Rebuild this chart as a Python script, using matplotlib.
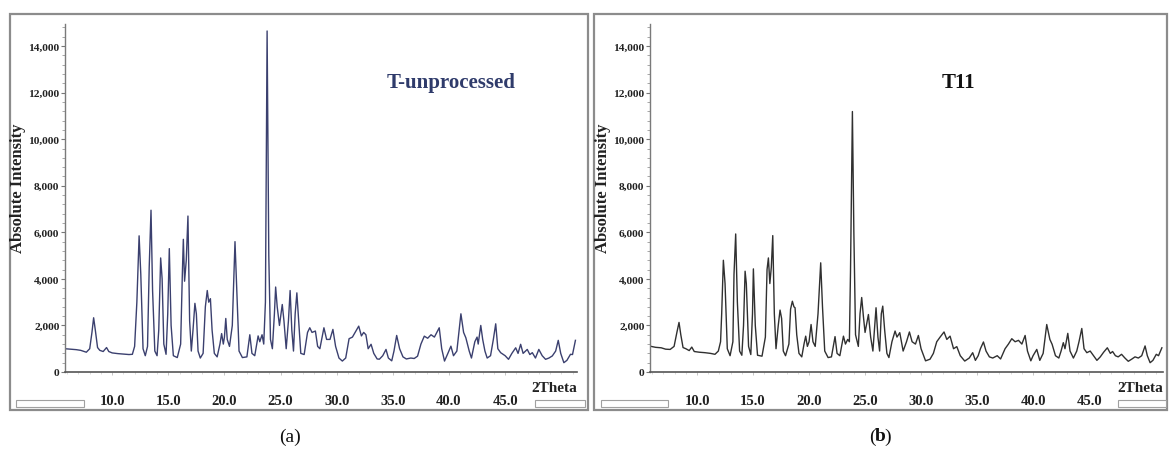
import matplotlib
matplotlib.use("Agg")
import matplotlib.pyplot as plt
from matplotlib.patches import Rectangle
from matplotlib.ticker import MultipleLocator, FuncFormatter

# ---------------- data ----------------
theta_a = [5.8, 6.3, 6.8, 7.2, 7.7, 8.0, 8.2, 8.35, 8.5, 8.7, 8.9, 9.2, 9.5, 9.7, 10.0, 10.5, 11.0, 11.5, 11.8,
           12.0, 12.2, 12.4, 12.55, 12.75, 12.95, 13.15, 13.3, 13.46, 13.6, 13.8, 14.0, 14.15, 14.32, 14.45, 14.6,
           14.8, 14.95, 15.09, 15.25, 15.45, 15.8, 16.1, 16.25, 16.34, 16.45, 16.6, 16.75, 16.9, 17.05, 17.2, 17.37,
           17.5, 17.65, 17.85, 18.1, 18.3, 18.47, 18.6, 18.75, 18.9, 19.1, 19.35, 19.6, 19.75, 19.9, 20.0, 20.12,
           20.25, 20.45, 20.7, 20.94, 21.1, 21.3, 21.6, 22.0, 22.26, 22.45, 22.7, 23.0, 23.15, 23.35, 23.5, 23.65,
           23.8, 23.95, 24.1, 24.27, 24.45, 24.56, 24.7, 24.9, 25.15, 25.3, 25.5, 25.7, 25.85, 26.0, 26.15, 26.3,
           26.45, 26.6, 26.8, 27.1, 27.4, 27.6, 27.8, 28.1, 28.3, 28.5, 28.86, 29.1, 29.4, 29.66, 29.9, 30.2, 30.5,
           30.8, 31.1, 31.4, 31.7, 31.96, 32.2, 32.4, 32.6, 32.8, 33.06, 33.3, 33.6, 33.8, 34.1, 34.39, 34.6, 34.9,
           35.1, 35.34, 35.6, 35.9, 36.2, 36.6, 36.9, 37.2, 37.5, 37.8, 38.1, 38.4, 38.7, 39.13, 39.35, 39.6, 39.9,
           40.17, 40.4, 40.7, 41.06, 41.3, 41.5, 41.8, 42.0, 42.3, 42.5, 42.6, 42.83, 43.0, 43.2, 43.4, 43.7, 43.95,
           44.16, 44.35, 44.6, 45.0, 45.3, 45.6, 45.94, 46.15, 46.38, 46.6, 46.97, 47.2, 47.42, 47.7, 48.0, 48.3,
           48.6, 48.9, 49.2, 49.5, 49.73, 49.95, 50.23, 50.5, 50.82, 51.0, 51.26]
intensity_a = [1000, 980, 960, 930, 850, 1000, 1700, 2330, 1800, 1050, 930, 880, 1050, 880, 820, 790, 770, 750, 760,
               1100, 3000, 5850, 4200, 1000, 700, 1100, 4500, 6950, 3500, 900, 700, 1800, 4900, 4000, 1200,
               760, 2500, 5300, 2000, 700, 620, 1200, 4200, 5700, 3900, 4800, 6700, 2200, 900, 1800, 2950,
               2500, 900, 600, 800, 2800, 3500, 3000, 3150, 1800, 800, 650, 1200, 1650, 1200, 1500, 2300,
               1400, 1100, 2000, 5600, 3500, 900, 620, 650, 1600, 800, 700, 1550, 1300, 1600, 1200, 3000,
               14650, 5000, 1400, 1000, 2500, 3650, 2800, 2000, 2900, 2200, 1000, 2200, 3500, 1800, 900, 2500,
               3400, 2300, 800, 750, 1700, 1900, 1700, 1760, 1100, 1000, 1900, 1400, 1400, 1830, 1100, 600, 470,
               600, 1430, 1500, 1750, 1970, 1550, 1700, 1600, 1000, 1190, 800, 560, 550, 700, 970, 600, 480,
               900, 1570, 1000, 650, 560, 600, 580, 680, 1200, 1540, 1450, 1600, 1500, 1900, 1000, 470, 800,
               1110, 700, 900, 2500, 1700, 1470, 900, 600, 1300, 1500, 1200, 2000, 1400, 900, 600, 700, 1400,
               2070, 1000, 830, 700, 545, 800, 1040, 800, 1190, 800, 970, 750, 830, 600, 970, 700,
               545, 600, 690, 900, 1360, 800, 400, 500, 760, 750, 1360]

theta_b = [5.8, 6.3, 6.8, 7.2, 7.6, 7.95, 8.2, 8.39, 8.55, 8.75, 9.0, 9.3, 9.53, 9.75, 10.2, 10.7, 11.2, 11.6, 11.9,
           12.1, 12.2, 12.35, 12.5, 12.7, 12.95, 13.2, 13.3, 13.45, 13.6, 13.8, 14.0, 14.15, 14.29, 14.4, 14.6,
           14.8, 14.95, 15.03, 15.2, 15.4, 15.8, 16.1, 16.25, 16.37, 16.5, 16.63, 16.76, 16.9, 17.05, 17.25, 17.41,
           17.55, 17.7, 17.9, 18.2, 18.35, 18.51, 18.65, 18.75, 18.9, 19.1, 19.35, 19.55, 19.7, 19.85, 20.0, 20.18,
           20.35, 20.55, 20.8, 21.04, 21.2, 21.4, 21.7, 22.0, 22.32, 22.5, 22.75, 23.07, 23.25, 23.45, 23.6, 23.7,
           23.87, 24.0, 24.15, 24.4, 24.55, 24.7, 24.85, 25.0, 25.3, 25.5, 25.7, 25.98, 26.15, 26.3, 26.45, 26.58,
           26.75, 26.95, 27.13, 27.4, 27.68, 27.85, 28.1, 28.4, 28.7, 28.96, 29.2, 29.5, 29.76, 30.0, 30.4, 30.8,
           31.1, 31.4, 31.7, 32.05, 32.3, 32.59, 32.9, 33.19, 33.5, 33.9, 34.3, 34.61, 34.85, 35.1, 35.3, 35.57,
           35.8, 36.1, 36.4, 36.8, 37.1, 37.5, 37.8, 38.1, 38.4, 38.7, 39.0, 39.29, 39.5, 39.8, 40.0, 40.33, 40.6,
           40.9, 41.22, 41.5, 41.7, 42.0, 42.3, 42.5, 42.7, 42.85, 43.1, 43.3, 43.6, 43.9, 44.1, 44.35, 44.55, 44.8,
           45.1, 45.4, 45.7, 46.0, 46.3, 46.63, 46.9, 47.1, 47.35, 47.6, 47.9, 48.2, 48.5, 48.8, 49.1, 49.4, 49.7,
           50.0, 50.2, 50.45, 50.7, 51.0, 51.2, 51.5]
intensity_b = [1110, 1060, 1040, 980, 970, 1100, 1700, 2130, 1600, 1050, 1000, 920, 1070, 880, 850, 830, 800, 760, 900,
               1300, 2500, 4800, 3800, 1000, 700, 1300, 4200, 5930, 3000, 900, 720, 2000, 4330, 3800, 1100,
               750, 2500, 4430, 2000, 720, 680, 1500, 4400, 4900, 3800, 4500, 5860, 2500, 1000, 2000, 2660,
               2300, 900, 700, 1200, 2700, 3040, 2800, 2760, 1600, 800, 650, 1200, 1540, 1100, 1300, 2040,
               1300, 1100, 2500, 4690, 2800, 900, 620, 650, 1520, 800, 700, 1540, 1200, 1400, 1300, 4300,
               11190, 6000, 1600, 1100, 2500, 3200, 2400, 1700, 2470, 1500, 900, 2760, 1500, 900, 2500, 2830,
               1800, 800, 620, 1300, 1760, 1500, 1690, 900, 1300, 1720, 1300, 1200, 1570, 1000, 480, 550,
               800, 1300, 1500, 1720, 1400, 1540, 1000, 1090, 700, 470, 600, 830, 500, 700, 1000, 1290,
               900, 650, 600, 700, 560, 1000, 1200, 1430, 1300, 1360, 1200, 1570, 900, 480, 700, 970, 500,
               800, 2040, 1400, 1190, 700, 600, 900, 1260, 1000, 1660, 900, 600, 900, 1300, 1870, 1000, 830,
               900, 700, 500, 650, 850, 1040, 800, 880, 700, 650, 760, 600, 460, 550, 650, 600, 700,
               1120, 700, 400, 500, 760, 700, 1040]

x_ticks = [10, 15, 20, 25, 30, 35, 40, 45]
y_ticks = [0, 2000, 4000, 6000, 8000, 10000, 12000, 14000]
panel_titles = ["T-unprocessed", "T11"]
panel_captions = ["a", "b"]

# ---------------- figure ----------------
W, H = 1169, 464
fig = plt.figure(figsize=(W / 100, H / 100), dpi=100)
SERIF = ["Liberation Serif", "DejaVu Serif"]


def fx(px):
    return px / W


def fy(py):
    return 1 - py / H


# outer frames
for x0, x1 in [(10, 588), (594, 1167)]:
    fig.patches.append(Rectangle((fx(x0), fy(411)), fx(x1) - fx(x0), fy(15) - fy(411),
                                 transform=fig.transFigure, facecolor="none",
                                 edgecolor="#8c8c8c", lw=1.6, zorder=-1))
# small white boxes at the bottom of each frame
for x0, x1 in [(16, 84), (535, 585), (601, 668), (1118, 1166)]:
    fig.patches.append(Rectangle((fx(x0), fy(408)), fx(x1) - fx(x0), fy(401) - fy(408),
                                 transform=fig.transFigure, facecolor="white",
                                 edgecolor="#a0a0a0", lw=0.8, zorder=-1))

panels = [
    dict(left=65, right=577, xlim=(5.8, 51.4), x=theta_a, y=intensity_a,
         color="#3b406f", title_color="#2f3b6b", title_x=451),
    dict(left=650, right=1163, xlim=(5.8, 51.6), x=theta_b, y=intensity_b,
         color="#303030", title_color="#111111", title_x=958),
]

for i, p in enumerate(panels):
    rect = [fx(p["left"]), fy(373), fx(p["right"]) - fx(p["left"]), fy(25) - fy(373)]
    ax = fig.add_axes(rect)
    ax.patch.set_visible(False)
    ax.plot(p["x"], p["y"], color=p["color"], lw=1.0, solid_joinstyle="round")
    ax.set_xlim(*p["xlim"])
    ax.set_ylim(0, 14950)
    for s in ["top", "right"]:
        ax.spines[s].set_visible(False)
    ax.spines["left"].set_color("#7a7a7a")
    ax.spines["left"].set_linewidth(1.0)
    ax.spines["bottom"].set_color("#555555")
    ax.spines["bottom"].set_linewidth(1.2)

    ax.set_yticks(y_ticks)
    ax.yaxis.set_major_formatter(FuncFormatter(lambda v, pos: f"{int(v):,}"))
    ax.yaxis.set_minor_locator(MultipleLocator(400))
    ax.tick_params(axis="y", which="major", direction="out", length=3, width=0.8,
                   color="#777777", pad=1, labelsize=8.2)
    ax.tick_params(axis="y", which="minor", direction="out", length=2, width=0.6, color="#999999")

    ax.set_xticks(x_ticks)
    ax.set_xticklabels([f"{t:.1f}" for t in x_ticks])
    ax.xaxis.set_minor_locator(MultipleLocator(1))
    ax.tick_params(axis="x", which="major", direction="out", length=2, width=0.6,
                   color="#bbbbbb", pad=14, labelsize=10.5)
    ax.tick_params(axis="x", which="minor", direction="out", length=1.5, width=0.5, color="#cccccc")
    for lab in ax.get_xticklabels() + ax.get_yticklabels():
        lab.set_fontfamily(SERIF)
        lab.set_fontweight("bold")
        lab.set_color("#222222")

    ax.set_ylabel("Absolute Intensity", fontsize=12, fontweight="bold", family=SERIF,
                  color="#222222", labelpad=0)
    ax.yaxis.set_label_coords((fx(p["left"] - 39) - rect[0]) / rect[2], (fy(188) - rect[1]) / rect[3])

    ax.text(1.0, -0.045, "2Theta", transform=ax.transAxes, ha="right", va="center",
            fontsize=11, fontweight="bold", family=SERIF, color="#222222")

    fig.text(fx(p["title_x"]), fy(83), panel_titles[i], ha="center", va="center",
             fontsize=15, fontweight="bold", family=SERIF, color=p["title_color"])

# captions (a) and (b)
fig.text(fx(290), fy(437), "(a)", ha="center", va="center", fontsize=14, family=SERIF, color="#111111")
fig.text(fx(880), fy(437), panel_captions[1], ha="center", va="center", fontsize=14,
         fontweight="bold", family=SERIF, color="#111111")
fig.text(fx(875.5), fy(437), "(", ha="right", va="center", fontsize=14, family=SERIF, color="#111111")
fig.text(fx(884.5), fy(437), ")", ha="left", va="center", fontsize=14, family=SERIF, color="#111111")

fig.savefig("out.png", dpi=100)
